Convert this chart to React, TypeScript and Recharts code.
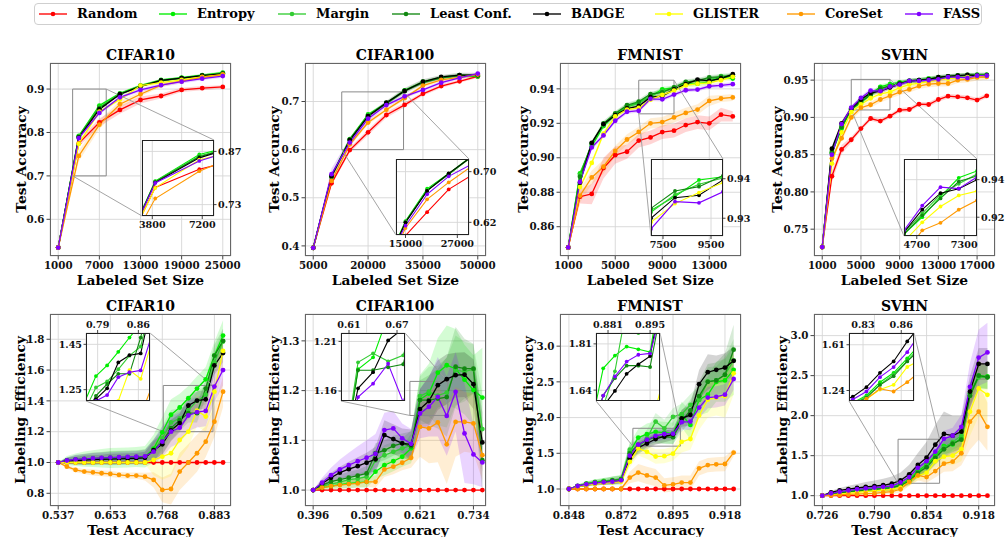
import React from "react";
import { ComposedChart, Line, Area, XAxis, YAxis, CartesianGrid, ReferenceArea, ReferenceLine } from "recharts";

const FONT = "'DejaVu Serif', 'Liberation Serif', 'Noto Serif', serif";

const SERIES = ["Random", "Entropy", "Margin", "Least Conf.", "BADGE", "GLISTER", "CoreSet", "FASS"];
const COLORS = ["#ff0000", "#00ee00", "#33cc33", "#118811", "#000000", "#ffff00", "#ff9900", "#8000ff"];
const LEGEND_X = [39, 159, 278, 392, 533, 655, 787, 905];

// ---------- CIFAR10 : accuracy vs labeled set size ----------
const cifar10Sizes = [1000, 4000, 7000, 10000, 13000, 16000, 19000, 22000, 25000];
const cifar10Acc = [
  [0.535, 0.775, 0.823, 0.852, 0.875, 0.884, 0.898, 0.902, 0.905],
  [0.535, 0.792, 0.862, 0.890, 0.908, 0.921, 0.926, 0.932, 0.938],
  [0.535, 0.791, 0.858, 0.889, 0.907, 0.920, 0.925, 0.931, 0.936],
  [0.535, 0.790, 0.856, 0.888, 0.907, 0.919, 0.925, 0.931, 0.936],
  [0.535, 0.788, 0.853, 0.888, 0.906, 0.920, 0.925, 0.931, 0.935],
  [0.535, 0.774, 0.848, 0.876, 0.908, 0.915, 0.921, 0.928, 0.933],
  [0.535, 0.746, 0.818, 0.865, 0.888, 0.909, 0.918, 0.927, 0.933],
  [0.535, 0.787, 0.845, 0.881, 0.898, 0.909, 0.917, 0.924, 0.930],
];
const cifar10AccStd = [
  [0, 0.008, 0.009, 0.009, 0.008, 0.006, 0.005, 0.005, 0.004],
  0.003, 0.003, 0.003, 0.002, 0.004,
  [0, 0.012, 0.01, 0.008, 0.005, 0.004, 0.003, 0.003, 0.003],
  0.004,
];
const cifar10SizeTicks = [1000, 7000, 13000, 19000, 25000];
const cifar10AccTicks = [0.6, 0.7, 0.8, 0.9];
const cifar10InsetXTicks = [3800, 7200];
const cifar10InsetYTicks = [0.73, 0.87];

// ---------- CIFAR100 ----------
const cifar100Sizes = [5000, 10000, 15000, 20000, 25000, 30000, 35000, 40000, 45000, 50000];
const cifar100Acc = [
  [0.396, 0.530, 0.599, 0.636, 0.672, 0.693, 0.716, 0.732, 0.742, 0.752],
  [0.396, 0.546, 0.622, 0.673, 0.697, 0.723, 0.741, 0.750, 0.754, 0.752],
  [0.396, 0.544, 0.621, 0.671, 0.696, 0.722, 0.740, 0.750, 0.755, 0.753],
  [0.396, 0.543, 0.620, 0.670, 0.696, 0.722, 0.739, 0.749, 0.754, 0.754],
  [0.396, 0.545, 0.620, 0.6696, 0.6974, 0.722, 0.741, 0.751, 0.755, 0.755],
  null,
  [0.396, 0.535, 0.611, 0.6563, 0.683, 0.707, 0.733, 0.745, 0.750, 0.756],
  [0.396, 0.549, 0.6147, 0.6643, 0.6926, 0.7107, 0.724, 0.739, 0.749, 0.758],
];
const cifar100AccStd = [
  [0, 0.004, 0.005, 0.006, 0.006, 0.005, 0.004, 0.004, 0.003, 0.003],
  0.003, 0.003, 0.003,
  [0, 0.005, 0.005, 0.004, 0.004, 0.006, 0.005, 0.004, 0.005, 0.005],
  null, 0.004,
  [0, 0.012, 0.01, 0.006, 0.004, 0.004, 0.003, 0.003, 0.003, 0.003],
];
const cifar100SizeTicks = [5000, 20000, 35000, 50000];
const cifar100AccTicks = [0.4, 0.5, 0.6, 0.7];
const cifar100InsetXTicks = [15000, 27000];
const cifar100InsetYTicks = [0.62, 0.70];

// ---------- FMNIST ----------
const fmnistSizes = [1000, 2000, 3000, 4000, 5000, 6000, 7000, 8000, 9000, 10000, 11000, 12000, 13000, 14000, 15000];
const fmnistAcc = [
  [0.848, 0.8774, 0.879, 0.894, 0.9015, 0.9035, 0.910, 0.9118, 0.9149, 0.9157, 0.919, 0.9207, 0.920, 0.925, 0.924],
  [0.848, 0.891, 0.9067, 0.9184, 0.925, 0.9296, 0.9320, 0.9355, 0.9397, 0.9405, 0.9427, 0.943, 0.944, 0.947, 0.946],
  [0.848, 0.890, 0.908, 0.919, 0.9253, 0.930, 0.9315, 0.9360, 0.9386, 0.9402, 0.9435, 0.9446, 0.9454, 0.9473, 0.948],
  [0.848, 0.889, 0.9083, 0.920, 0.9257, 0.9305, 0.9325, 0.9369, 0.9380, 0.9408, 0.944, 0.9446, 0.9466, 0.947, 0.9473],
  [0.848, 0.8855, 0.9087, 0.9195, 0.9247, 0.9286, 0.9300, 0.9352, 0.9358, 0.9397, 0.9427, 0.9454, 0.9446, 0.946, 0.9485],
  [0.848, 0.883, 0.897, 0.914, 0.924, 0.928, 0.9290, 0.9337, 0.9365, 0.9390, 0.942, 0.943, 0.9435, 0.945, 0.947],
  [0.848, 0.878, 0.8886, 0.8948, 0.904, 0.9106, 0.915, 0.920, 0.9207, 0.9234, 0.926, 0.928, 0.933, 0.9344, 0.935],
  [0.848, 0.886, 0.906, 0.913, 0.9215, 0.9267, 0.9273, 0.9342, 0.9339, 0.9367, 0.9392, 0.9396, 0.9415, 0.942, 0.9427],
];
const fmnistAccStd = [
  [0, 0.004, 0.006, 0.006, 0.005, 0.004, 0.004, 0.004, 0.004, 0.004, 0.004, 0.004, 0.004, 0.004, 0.003],
  0.0015, 0.0015, 0.0015, 0.001, 0.0015,
  [0, 0.004, 0.004, 0.004, 0.003, 0.003, 0.003, 0.003, 0.003, 0.003, 0.003, 0.003, 0.003, 0.002, 0.002],
  0.0012,
];
const fmnistSizeTicks = [1000, 5000, 9000, 13000];
const fmnistAccTicks = [0.86, 0.88, 0.90, 0.92, 0.94];
const fmnistInsetXTicks = [7500, 9500];
const fmnistInsetYTicks = [0.93, 0.94];

// ---------- SVHN ----------
const svhnSizes = [1000, 2000, 3000, 4000, 5000, 6000, 7000, 8000, 9000, 10000, 11000, 12000, 13000, 14000, 15000, 16000, 17000, 18000];
const svhnAcc = [
  [0.726, 0.821, 0.857, 0.870, 0.885, 0.8985, 0.895, 0.9017, 0.9097, 0.9106, 0.9178, 0.9173, 0.924, 0.9285, 0.9276, 0.9263, 0.9232, 0.929],
  [0.726, 0.852, 0.885, 0.911, 0.920, 0.931, 0.941, 0.9446, 0.947, 0.949, 0.950, 0.952, 0.953, 0.954, 0.956, 0.956, 0.957, 0.957],
  [0.726, 0.855, 0.889, 0.912, 0.922, 0.932, 0.9378, 0.943, 0.946, 0.949, 0.950, 0.952, 0.954, 0.955, 0.955, 0.957, 0.957, 0.957],
  [0.726, 0.853, 0.887, 0.911, 0.921, 0.930, 0.939, 0.942, 0.946, 0.948, 0.950, 0.951, 0.953, 0.955, 0.956, 0.956, 0.957, 0.957],
  [0.726, 0.858, 0.892, 0.912, 0.924, 0.9328, 0.9352, 0.940, 0.945, 0.949, 0.950, 0.951, 0.954, 0.955, 0.956, 0.957, 0.956, 0.956],
  [0.726, 0.838, 0.880, 0.907, 0.9173, 0.9257, 0.9316, 0.9339, 0.940, 0.944, 0.946, 0.948, 0.950, 0.952, 0.953, 0.954, 0.955, 0.955],
  [0.726, 0.845, 0.872, 0.900, 0.913, 0.917, 0.924, 0.929, 0.934, 0.9375, 0.942, 0.9446, 0.9455, 0.9455, 0.950, 0.951, 0.9536, 0.9545],
  [0.726, 0.850, 0.891, 0.913, 0.9262, 0.936, 0.9352, 0.9414, 0.944, 0.949, 0.949, 0.950, 0.951, 0.954, 0.954, 0.953, 0.956, 0.956],
];
const svhnAccStd = [
  [0, 0.008, 0.006, 0.004, 0.003, 0.003, 0.003, 0.003, 0.003, 0.003, 0.003, 0.003, 0.003, 0.003, 0.003, 0.003, 0.003, 0.003],
  0.003, 0.003, 0.003, 0.003, 0.003, 0.004, 0.003,
];
const svhnSizeTicks = [1000, 5000, 9000, 13000, 17000];
const svhnAccTicks = [0.75, 0.80, 0.85, 0.90, 0.95];
const svhnInsetXTicks = [4700, 7300];
const svhnInsetYTicks = [0.92, 0.94];

// ---------- CIFAR10 : labeling efficiency ----------
const cifar10EffX = [0.5372, 0.5564, 0.5756, 0.5949, 0.6141, 0.6333, 0.6526, 0.6718, 0.6910, 0.7102, 0.7294, 0.7486, 0.7678, 0.7871, 0.8063, 0.8255, 0.8447, 0.8640, 0.8832, 0.9024];
const cifar10Eff = [
  [1, 1, 1, 1, 1, 1, 1, 1, 1, 1, 1, 1, 1, 1, 1, 1, 1, 1, 1, 1],
  [1.0, 1.012, 1.018, 1.022, 1.025, 1.027, 1.029, 1.031, 1.033, 1.035, 1.037, 1.09, 1.196, 1.31, 1.357, 1.417, 1.48, 1.54, 1.694, 1.824],
  [1.0, 1.01, 1.015, 1.02, 1.022, 1.025, 1.027, 1.029, 1.03, 1.032, 1.034, 1.077, 1.157, 1.26, 1.286, 1.34, 1.40, 1.44, 1.65, 1.785],
  [1.0, 1.012, 1.018, 1.022, 1.025, 1.028, 1.03, 1.032, 1.033, 1.035, 1.036, 1.08, 1.135, 1.223, 1.275, 1.32, 1.32, 1.48, 1.694, 1.79],
  [1.0, 1.01, 1.013, 1.016, 1.018, 1.02, 1.022, 1.024, 1.025, 1.027, 1.03, 1.08, 1.118, 1.208, 1.256, 1.37, 1.402, 1.41, 1.63, 1.71],
  [1.0, 1.0, 1.0, 1.0, 1.0, 1.0, 1.0, 1.0, 1.0, 1.0, 1.0, 1.016, 1.038, 1.06, 1.146, 1.20, 1.336, 1.298, 1.46, 1.724],
  [1.0, 0.973, 0.952, 0.941, 0.936, 0.930, 0.926, 0.919, 0.915, 0.915, 0.908, 0.887, 0.822, 0.828, 0.941, 1.0, 1.06, 1.135, 1.265, 1.46],
  [1.0, 1.013, 1.02, 1.024, 1.027, 1.03, 1.032, 1.034, 1.036, 1.038, 1.04, 1.07, 1.135, 1.20, 1.226, 1.305, 1.327, 1.335, 1.493, 1.60],
];
const cifar10EffStd = [
  0,
  [0, 0.03, 0.04, 0.05, 0.055, 0.06, 0.065, 0.065, 0.065, 0.065, 0.07, 0.09, 0.1, 0.1, 0.09, 0.08, 0.08, 0.08, 0.09, 0.1],
  [0, 0.02, 0.03, 0.035, 0.04, 0.04, 0.045, 0.045, 0.045, 0.045, 0.05, 0.07, 0.08, 0.08, 0.07, 0.06, 0.06, 0.06, 0.07, 0.08],
  [0, 0.02, 0.03, 0.035, 0.04, 0.04, 0.045, 0.045, 0.045, 0.045, 0.05, 0.07, 0.08, 0.08, 0.07, 0.06, 0.06, 0.06, 0.07, 0.08],
  [0, 0.02, 0.025, 0.03, 0.03, 0.03, 0.035, 0.035, 0.035, 0.035, 0.04, 0.06, 0.07, 0.07, 0.06, 0.06, 0.06, 0.06, 0.06, 0.06],
  [0, 0.005, 0.005, 0.005, 0.005, 0.005, 0.005, 0.005, 0.005, 0.005, 0.01, 0.1, 0.15, 0.15, 0.12, 0.1, 0.1, 0.1, 0.1, 0.1],
  [0, 0.01, 0.015, 0.015, 0.02, 0.02, 0.02, 0.02, 0.02, 0.02, 0.025, 0.05, 0.08, 0.1, 0.12, 0.12, 0.12, 0.1, 0.1, 0.1],
  [0, 0.02, 0.03, 0.03, 0.035, 0.035, 0.035, 0.035, 0.035, 0.035, 0.04, 0.08, 0.1, 0.1, 0.1, 0.1, 0.1, 0.1, 0.1, 0.1],
];
const cifar10EffXTicks = [0.5372, 0.6526, 0.7678, 0.8832];
const cifar10EffYTicks = [0.8, 1.0, 1.2, 1.4, 1.6, 1.8];
const cifar10EffInsetXTicks = [0.79, 0.86];
const cifar10EffInsetYTicks = [1.25, 1.45];

// ---------- CIFAR100 : labeling efficiency ----------
const cifar100EffX = [0.3960, 0.4148, 0.4336, 0.4523, 0.4711, 0.4899, 0.5087, 0.5274, 0.5462, 0.5650, 0.5838, 0.6026, 0.6213, 0.6401, 0.6589, 0.6777, 0.6964, 0.7152, 0.7340, 0.7528];
const cifar100Eff = [
  [1, 1, 1, 1, 1, 1, 1, 1, 1, 1, 1, 1, 1, 1, 1, 1, 1, 1, 1, 1],
  [1.0, 1.005, 1.008, 1.011, 1.0134, 1.015, 1.0167, 1.037, 1.05, 1.058, 1.067, 1.084, 1.182, 1.194, 1.236, 1.251, 1.244, 1.222, 1.201, 1.186],
  [1.0, 1.008, 1.012, 1.016, 1.021, 1.023, 1.027, 1.06, 1.07, 1.077, 1.084, 1.09, 1.189, 1.198, 1.19, 1.196, 1.241, 1.238, 1.243, 1.1226],
  [1.0, 1.01, 1.017, 1.021, 1.025, 1.029, 1.0335, 1.074, 1.08, 1.089, 1.094, 1.088, 1.181, 1.181, 1.184, 1.187, 1.248, 1.244, 1.244, 1.06],
  [1.0, 1.0134, 1.0248, 1.035, 1.042, 1.048, 1.055, 1.062, 1.1105, 1.1025, 1.094, 1.092, 1.1628, 1.179, 1.211, 1.223, 1.231, 1.232, 1.213, 1.0958],
  null,
  [1.0, 1.005, 1.008, 1.01, 1.012, 1.0134, 1.0167, 1.0167, 1.0415, 1.047, 1.055, 1.065, 1.127, 1.124, 1.136, 1.092, 1.137, 1.137, 1.134, 1.07],
  [1.0, 1.0147, 1.030, 1.0415, 1.050, 1.058, 1.065, 1.073, 1.1206, 1.124, 1.104, 1.093, 1.154, 1.1675, 1.1875, 1.149, 1.1976, 1.114, 1.0717, 1.0556],
];
const cifar100EffStd = [
  0,
  [0, 0.005, 0.006, 0.008, 0.01, 0.01, 0.012, 0.015, 0.02, 0.02, 0.02, 0.03, 0.05, 0.06, 0.07, 0.08, 0.08, 0.07, 0.07, 0.1],
  [0, 0.005, 0.006, 0.008, 0.01, 0.01, 0.012, 0.015, 0.02, 0.02, 0.02, 0.03, 0.04, 0.05, 0.06, 0.07, 0.07, 0.06, 0.05, 0.07],
  [0, 0.005, 0.008, 0.01, 0.012, 0.012, 0.015, 0.02, 0.02, 0.02, 0.02, 0.03, 0.04, 0.05, 0.06, 0.08, 0.08, 0.06, 0.05, 0.07],
  [0, 0.008, 0.01, 0.012, 0.015, 0.018, 0.02, 0.025, 0.03, 0.03, 0.03, 0.03, 0.04, 0.05, 0.05, 0.05, 0.045, 0.045, 0.05, 0.06],
  null,
  [0, 0.005, 0.006, 0.007, 0.008, 0.008, 0.01, 0.012, 0.015, 0.015, 0.015, 0.02, 0.06, 0.07, 0.08, 0.08, 0.07, 0.06, 0.06, 0.05],
  [0, 0.01, 0.015, 0.02, 0.025, 0.03, 0.035, 0.04, 0.035, 0.035, 0.03, 0.03, 0.05, 0.06, 0.08, 0.08, 0.08, 0.1, 0.06, 0.05],
];
const cifar100EffXTicks = [0.3960, 0.5087, 0.6213, 0.7340];
const cifar100EffYTicks = [1.0, 1.1, 1.2, 1.3];
const cifar100EffInsetXTicks = [0.61, 0.67];
const cifar100EffInsetYTicks = [1.16, 1.21];

// ---------- FMNIST : labeling efficiency ----------
const fmnistEffX = [0.8483, 0.8522, 0.8561, 0.8600, 0.8639, 0.8678, 0.8717, 0.8756, 0.8794, 0.8833, 0.8872, 0.8911, 0.8950, 0.8989, 0.9028, 0.9067, 0.9106, 0.9144, 0.9183, 0.9222];
const fmnistEff = [
  [1, 1, 1, 1, 1, 1, 1, 1, 1, 1, 1, 1, 1, 1, 1, 1, 1, 1, 1, 1],
  [1.0, 1.04, 1.07, 1.09, 1.105, 1.115, 1.13, 1.52, 1.72, 1.767, 1.80, 1.79, 1.78, 2.04, 1.897, 2.25, 2.32, 2.50, 2.52, 2.668],
  [1.0, 1.045, 1.075, 1.10, 1.115, 1.125, 1.14, 1.55, 1.58, 1.709, 1.944, 1.85, 2.01, 2.047, 2.178, 2.248, 2.505, 2.52, 2.598, 2.80],
  [1.0, 1.04, 1.07, 1.09, 1.10, 1.12, 1.135, 1.50, 1.62, 1.684, 1.73, 1.73, 1.725, 1.95, 2.10, 2.30, 2.50, 2.52, 2.60, 2.95],
  [1.0, 1.035, 1.055, 1.075, 1.09, 1.10, 1.115, 1.43, 1.58, 1.637, 1.70, 1.735, 1.765, 1.99, 2.037, 2.467, 2.635, 2.668, 2.70, 2.794],
  [1.0, 1.03, 1.056, 1.07, 1.084, 1.093, 1.103, 1.38, 1.57, 1.52, 1.455, 1.46, 1.495, 1.66, 1.70, 2.03, 2.25, 2.28, 2.30, 2.62],
  [1.0, 1.0, 1.0, 1.0, 1.0, 1.0, 1.0, 1.16, 1.23, 1.19, 1.16, 1.05, 1.065, 1.09, 1.09, 1.29, 1.335, 1.345, 1.35, 1.51],
  [1.0, 1.042, 1.065, 1.084, 1.093, 1.103, 1.121, 1.467, 1.62, 1.69, 1.745, 1.77, 1.775, 1.935, 1.944, 2.14, 2.28, 2.29, 2.32, 2.54],
];
const fmnistEffStd = [
  0,
  [0, 0.02, 0.03, 0.04, 0.05, 0.06, 0.07, 0.12, 0.12, 0.15, 0.15, 0.15, 0.15, 0.18, 0.2, 0.22, 0.25, 0.28, 0.3, 0.35],
  [0, 0.02, 0.03, 0.035, 0.04, 0.05, 0.05, 0.1, 0.1, 0.12, 0.12, 0.12, 0.12, 0.15, 0.15, 0.2, 0.2, 0.2, 0.25, 0.3],
  [0, 0.02, 0.03, 0.035, 0.04, 0.05, 0.05, 0.1, 0.1, 0.1, 0.1, 0.1, 0.1, 0.15, 0.15, 0.2, 0.25, 0.25, 0.3, 0.35],
  [0, 0.015, 0.02, 0.025, 0.03, 0.035, 0.04, 0.08, 0.08, 0.08, 0.08, 0.08, 0.08, 0.12, 0.15, 0.2, 0.25, 0.2, 0.2, 0.2],
  [0, 0.01, 0.015, 0.02, 0.02, 0.025, 0.03, 0.08, 0.1, 0.1, 0.1, 0.1, 0.1, 0.15, 0.15, 0.2, 0.25, 0.25, 0.3, 0.3],
  [0, 0.005, 0.005, 0.005, 0.005, 0.005, 0.01, 0.08, 0.12, 0.12, 0.12, 0.1, 0.1, 0.1, 0.1, 0.1, 0.1, 0.1, 0.1, 0.05],
  [0, 0.015, 0.02, 0.025, 0.03, 0.035, 0.04, 0.08, 0.08, 0.08, 0.08, 0.08, 0.08, 0.1, 0.12, 0.15, 0.15, 0.15, 0.15, 0.15],
];
const fmnistEffXTicks = [0.8483, 0.8717, 0.8950, 0.9183];
const fmnistEffYTicks = [1.0, 1.5, 2.0, 2.5, 3.0];
const fmnistEffInsetXTicks = [0.881, 0.895];
const fmnistEffInsetYTicks = [1.64, 1.81];

// ---------- SVHN : labeling efficiency ----------
const svhnEffX = [0.7260, 0.7367, 0.7473, 0.7580, 0.7687, 0.7793, 0.7900, 0.8007, 0.8113, 0.8220, 0.8327, 0.8433, 0.8540, 0.8647, 0.8753, 0.8860, 0.8967, 0.9073, 0.9180, 0.9287];
const svhnEff = [
  [1, 1, 1, 1, 1, 1, 1, 1, 1, 1, 1, 1, 1, 1, 1, 1, 1, 1, 1, 1],
  [1.0, 1.02, 1.04, 1.055, 1.065, 1.075, 1.085, 1.095, 1.105, 1.14, 1.20, 1.307, 1.383, 1.50, 1.62, 1.64, 1.72, 2.28, 2.50, 2.49],
  [1.0, 1.02, 1.035, 1.05, 1.06, 1.07, 1.08, 1.09, 1.10, 1.13, 1.19, 1.29, 1.37, 1.48, 1.60, 1.67, 1.75, 2.25, 2.48, 2.48],
  [1.0, 1.02, 1.035, 1.05, 1.06, 1.07, 1.08, 1.09, 1.10, 1.13, 1.18, 1.285, 1.356, 1.475, 1.58, 1.65, 1.70, 2.25, 2.50, 2.48],
  [1.0, 1.042, 1.067, 1.083, 1.096, 1.11, 1.12, 1.13, 1.15, 1.19, 1.267, 1.383, 1.475, 1.637, 1.771, 1.75, 1.80, 2.30, 2.646, 2.646],
  [1.0, 1.01, 1.02, 1.03, 1.04, 1.05, 1.06, 1.07, 1.08, 1.10, 1.17, 1.248, 1.286, 1.43, 1.487, 1.50, 1.58, 2.05, 2.34, 2.26],
  [1.0, 1.005, 1.01, 1.015, 1.02, 1.025, 1.03, 1.04, 1.05, 1.08, 1.173, 1.254, 1.232, 1.307, 1.40, 1.425, 1.53, 1.925, 2.05, 1.86],
  [1.0, 1.03, 1.05, 1.065, 1.08, 1.09, 1.10, 1.11, 1.12, 1.167, 1.232, 1.348, 1.429, 1.55, 1.71, 1.75, 1.86, 2.36, 2.725, 2.79],
];
const svhnEffStd = [
  0,
  [0, 0.01, 0.015, 0.02, 0.02, 0.025, 0.03, 0.03, 0.035, 0.04, 0.05, 0.06, 0.07, 0.08, 0.1, 0.1, 0.12, 0.15, 0.15, 0.15],
  [0, 0.01, 0.015, 0.02, 0.02, 0.025, 0.03, 0.03, 0.035, 0.04, 0.05, 0.06, 0.07, 0.08, 0.1, 0.1, 0.12, 0.15, 0.15, 0.15],
  [0, 0.01, 0.015, 0.02, 0.02, 0.025, 0.03, 0.03, 0.035, 0.04, 0.05, 0.06, 0.07, 0.08, 0.1, 0.1, 0.12, 0.15, 0.15, 0.15],
  [0, 0.02, 0.03, 0.04, 0.05, 0.06, 0.07, 0.08, 0.09, 0.1, 0.12, 0.15, 0.2, 0.25, 0.28, 0.25, 0.2, 0.2, 0.2, 0.2],
  [0, 0.005, 0.01, 0.01, 0.015, 0.02, 0.02, 0.025, 0.03, 0.04, 0.05, 0.06, 0.07, 0.08, 0.1, 0.12, 0.15, 0.3, 0.35, 0.35],
  [0, 0.005, 0.01, 0.01, 0.015, 0.02, 0.02, 0.025, 0.03, 0.04, 0.05, 0.06, 0.07, 0.08, 0.1, 0.12, 0.15, 0.35, 0.35, 0.3],
  [0, 0.01, 0.015, 0.02, 0.02, 0.025, 0.03, 0.03, 0.035, 0.04, 0.05, 0.06, 0.07, 0.08, 0.1, 0.1, 0.15, 0.3, 0.35, 0.37],
];
const svhnEffXTicks = [0.7260, 0.7900, 0.8540, 0.9180];
const svhnEffYTicks = [1.0, 1.5, 2.0, 2.5, 3.0];
const svhnEffInsetXTicks = [0.83, 0.86];
const svhnEffInsetYTicks = [1.24, 1.61];

// ---------- layout ----------
type InsetDef = { xDomain: number[]; yDomain: number[]; xTicks: number[]; yTicks: number[]; xDec: number; yDec: number; box: number[] };
type PanelDef = {
  title: string; xLabel: string; yLabel: string; row: number; left: number; top: number; w: number; h: number; yGap: number;
  x: number[]; ys: (number[] | null)[]; spread: any[]; xDomain: number[]; yDomain: number[]; xTicks: number[]; yTicks: number[];
  xDec: number; yDec: number; inset: InsetDef;
};

const COL_LEFT = [50, 304.5, 559.5, 814];
const PW = 181;

const PANELS: PanelDef[] = [
  { title: "CIFAR10", xLabel: "Labeled Set Size", yLabel: "Test Accuracy", row: 0, left: COL_LEFT[0], top: 63, w: PW, h: 193, yGap: 28.5,
    x: cifar10Sizes, ys: cifar10Acc, spread: cifar10AccStd, xDomain: [-200, 26200], yDomain: [0.5155, 0.96], xTicks: cifar10SizeTicks, yTicks: cifar10AccTicks, xDec: -1, yDec: 1,
    inset: { xDomain: [3100, 8000], yDomain: [0.7, 0.9], xTicks: cifar10InsetXTicks, yTicks: cifar10InsetYTicks, xDec: -1, yDec: 2, box: [92, 77, 72, 76] } },
  { title: "CIFAR100", xLabel: "Labeled Set Size", yLabel: "Test Accuracy", row: 0, left: COL_LEFT[1], top: 63, w: PW, h: 193, yGap: 30.5,
    x: cifar100Sizes, ys: cifar100Acc, spread: cifar100AccStd, xDomain: [2750, 52250], yDomain: [0.379, 0.78], xTicks: cifar100SizeTicks, yTicks: cifar100AccTicks, xDec: -1, yDec: 1,
    inset: { xDomain: [12800, 29700], yDomain: [0.6, 0.72], xTicks: cifar100InsetXTicks, yTicks: cifar100InsetYTicks, xDec: -1, yDec: 2, box: [91, 96, 73, 76] } },
  { title: "FMNIST", xLabel: "Labeled Set Size", yLabel: "Test Accuracy", row: 0, left: COL_LEFT[2], top: 63, w: PW, h: 193, yGap: 36.5,
    x: fmnistSizes, ys: fmnistAcc, spread: fmnistAccStd, xDomain: [300, 15700], yDomain: [0.843, 0.955], xTicks: fmnistSizeTicks, yTicks: fmnistAccTicks, xDec: -1, yDec: 2,
    inset: { xDomain: [7000, 10000], yDomain: [0.9255, 0.945], xTicks: fmnistInsetXTicks, yTicks: fmnistInsetYTicks, xDec: -1, yDec: 2, box: [91, 96, 72, 77] } },
  { title: "SVHN", xLabel: "Labeled Set Size", yLabel: "Test Accuracy", row: 0, left: COL_LEFT[3], top: 63, w: PW, h: 193, yGap: 37,
    x: svhnSizes, ys: svhnAcc, spread: svhnAccStd, xDomain: [150, 18850], yDomain: [0.714, 0.973], xTicks: svhnSizeTicks, yTicks: svhnAccTicks, xDec: -1, yDec: 2,
    inset: { xDomain: [4000, 8000], yDomain: [0.91, 0.951], xTicks: svhnInsetXTicks, yTicks: svhnInsetYTicks, xDec: -1, yDec: 2, box: [90, 96, 73, 77] } },
  { title: "CIFAR10", xLabel: "Test Accuracy", yLabel: "Labeling Efficiency", row: 1, left: COL_LEFT[0], top: 314, w: PW, h: 192, yGap: 30,
    x: cifar10EffX, ys: cifar10Eff, spread: cifar10EffStd, xDomain: [0.519, 0.92], yDomain: [0.7175, 1.964], xTicks: cifar10EffXTicks, yTicks: cifar10EffYTicks, xDec: 3, yDec: 1,
    inset: { xDomain: [0.77, 0.88], yDomain: [1.2, 1.5], xTicks: cifar10EffInsetXTicks, yTicks: cifar10EffInsetYTicks, xDec: 2, yDec: 2, box: [36, 19, 64, 68] } },
  { title: "CIFAR100", xLabel: "Test Accuracy", yLabel: "Labeling Efficiency", row: 1, left: COL_LEFT[1], top: 314, w: PW, h: 192, yGap: 31,
    x: cifar100EffX, ys: cifar100Eff, spread: cifar100EffStd, xDomain: [0.3788, 0.7605], yDomain: [0.968, 1.354], xTicks: cifar100EffXTicks, yTicks: cifar100EffYTicks, xDec: 3, yDec: 1,
    inset: { xDomain: [0.6, 0.68], yDomain: [1.15, 1.2185], xTicks: cifar100EffInsetXTicks, yTicks: cifar100EffInsetYTicks, xDec: 2, yDec: 2, box: [36, 19, 64, 68] } },
  { title: "FMNIST", xLabel: "Test Accuracy", yLabel: "Labeling Efficiency", row: 1, left: COL_LEFT[2], top: 314, w: PW, h: 192, yGap: 31.5,
    x: fmnistEffX, ys: fmnistEff, spread: fmnistEffStd, xDomain: [0.8443, 0.9255], yDomain: [0.762, 3.45], xTicks: fmnistEffXTicks, yTicks: fmnistEffYTicks, xDec: 3, yDec: 1,
    inset: { xDomain: [0.877, 0.8983], yDomain: [1.6, 1.85], xTicks: fmnistEffInsetXTicks, yTicks: fmnistEffInsetYTicks, xDec: 3, yDec: 2, box: [36, 19, 64, 68] } },
  { title: "SVHN", xLabel: "Test Accuracy", yLabel: "Labeling Efficiency", row: 1, left: COL_LEFT[3], top: 314, w: PW, h: 192, yGap: 32,
    x: svhnEffX, ys: svhnEff, spread: svhnEffStd, xDomain: [0.7158, 0.938], yDomain: [0.871, 3.27], xTicks: svhnEffXTicks, yTicks: svhnEffYTicks, xDec: 3, yDec: 1,
    inset: { xDomain: [0.819, 0.87], yDomain: [1.155, 1.705], xTicks: svhnEffInsetXTicks, yTicks: svhnEffInsetYTicks, xDec: 2, yDec: 2, box: [35, 19, 65, 68] } },
];

const fmt = (dec: number) => (v: number) => (dec < 0 ? String(v) : v.toFixed(dec));
const tickStyle = { fontSize: 10.3, fontFamily: FONT, fontWeight: 700, fill: "#111" };
const insetTickStyle = { fontSize: 9.6, fontFamily: FONT, fontWeight: 700, fill: "#111" };
const labelStyle = { fontSize: 13.8, fontFamily: FONT, fontWeight: 700, fill: "#000" };

function buildRows(p: PanelDef) {
  return p.x.map((xv, i) => {
    const r: Record<string, any> = { x: xv };
    p.ys.forEach((arr, k) => {
      if (!arr) return;
      r["s" + k] = arr[i];
      const sp = p.spread[k];
      if (sp === null || sp === undefined) return;
      const s = Array.isArray(sp) ? sp[i] : sp;
      r["b" + k] = [arr[i] - s, arr[i] + s];
    });
    return r;
  });
}

function MainChart({ p, rows }: { p: PanelDef; rows: any[] }) {
  const YW = 50, MT = 10, MR = 22;
  const base = 29;
  const XH = base + 10;
  const W = YW + p.w + MR;
  const H = MT + p.h + XH;
  const ins = p.inset;
  const [bl, bt, bw, bh] = ins.box;
  const fx = (px: number) => p.xDomain[0] + (px / p.w) * (p.xDomain[1] - p.xDomain[0]);
  const fy = (py: number) => p.yDomain[1] - (py / p.h) * (p.yDomain[1] - p.yDomain[0]);
  const segTR = [{ x: ins.xDomain[1], y: ins.yDomain[1] }, { x: fx(bl + bw), y: fy(bt) }];
  const segBL = [{ x: ins.xDomain[0], y: ins.yDomain[0] }, { x: fx(bl), y: fy(bt + bh) }];
  return (
    <div style={{ position: "absolute", left: p.left - YW, top: p.top - MT, width: W, height: H }}>
      <ComposedChart width={W} height={H} data={rows} margin={{ top: MT, right: MR, bottom: 0, left: 0 }}>
        <CartesianGrid stroke="#d6d6d6" strokeWidth={0.9} />
        <XAxis type="number" dataKey="x" domain={p.xDomain} ticks={p.xTicks} interval={0} allowDataOverflow
          tickFormatter={fmt(p.xDec)} height={XH} tickSize={3.5} tickMargin={2} axisLine={false}
          tickLine={{ stroke: "#444" }} tick={tickStyle}
          label={{ value: p.xLabel, position: "insideBottom", offset: XH - base, ...labelStyle }} />
        <YAxis type="number" domain={p.yDomain} ticks={p.yTicks} interval={0} allowDataOverflow
          tickFormatter={fmt(p.yDec)} width={YW} tickSize={3.5} tickMargin={2} axisLine={false}
          tickLine={{ stroke: "#444" }} tick={tickStyle}
          label={{ value: p.yLabel, angle: -90, position: "insideLeft", offset: YW - p.yGap, ...labelStyle, style: { textAnchor: "middle" } }} />
        {p.ys.map((arr, k) => (arr && p.spread[k] !== null && p.spread[k] !== undefined ? (
          <Area key={"b" + k} type="linear" dataKey={"b" + k} stroke="none" fill={COLORS[k]} fillOpacity={0.17}
            isAnimationActive={false} dot={false} activeDot={false} />
        ) : null))}
        {p.ys.map((arr, k) => (arr ? (
          <Line key={"s" + k} type="linear" dataKey={"s" + k} stroke={COLORS[k]} strokeWidth={1.3}
            dot={{ r: 2.4, fill: COLORS[k], stroke: COLORS[k], strokeWidth: 0 }} activeDot={false} isAnimationActive={false} />
        ) : null))}
        <ReferenceArea x1={ins.xDomain[0]} x2={ins.xDomain[1]} y1={ins.yDomain[0]} y2={ins.yDomain[1]}
          fill="none" fillOpacity={0} stroke="#8a8a8a" strokeWidth={1} />
        <ReferenceLine segment={segTR} stroke="#9a9a9a" strokeWidth={0.9} />
        <ReferenceLine segment={segBL} stroke="#9a9a9a" strokeWidth={0.9} />
      </ComposedChart>
    </div>
  );
}

function InsetChart({ p, rows }: { p: PanelDef; rows: any[] }) {
  const ins = p.inset;
  const [bl, bt, bw, bh] = ins.box;
  const ax = p.left + bl, ay = p.top + bt;
  const topRow = p.row === 0;
  const YWi = 30, XHi = 17, PAD = 16;
  const W = bw + YWi + PAD, H = bh + XHi;
  const cl = topRow ? ax - PAD : ax - YWi;
  const ct = topRow ? ay : ay - XHi;
  const margin = topRow ? { top: 0, right: 0, bottom: 0, left: PAD } : { top: 0, right: PAD, bottom: 0, left: 0 };
  return (
    <>
      <div style={{ position: "absolute", left: ax, top: ay, width: bw, height: bh, background: "#fff" }} />
      <div style={{ position: "absolute", left: cl, top: ct, width: W, height: H }}>
        <ComposedChart width={W} height={H} data={rows} margin={margin}>
          <CartesianGrid stroke="#d6d6d6" strokeWidth={0.9} />
          <XAxis type="number" dataKey="x" domain={ins.xDomain} ticks={ins.xTicks} interval={0} allowDataOverflow
            orientation={topRow ? "bottom" : "top"} tickFormatter={fmt(ins.xDec)} height={XHi} tickSize={3} tickMargin={2}
            axisLine={false} tickLine={{ stroke: "#444" }} tick={insetTickStyle} />
          <YAxis type="number" domain={ins.yDomain} ticks={ins.yTicks} interval={0} allowDataOverflow
            orientation={topRow ? "right" : "left"} tickFormatter={fmt(ins.yDec)} width={YWi} tickSize={2.5} tickMargin={1.5}
            axisLine={false} tickLine={{ stroke: "#444" }} tick={insetTickStyle} />
          {p.ys.map((arr, k) => (arr ? (
            <Line key={"i" + k} type="linear" dataKey={"s" + k} stroke={COLORS[k]} strokeWidth={1.1}
              dot={{ r: 1.9, fill: COLORS[k], stroke: COLORS[k], strokeWidth: 0 }} activeDot={false} isAnimationActive={false} />
          ) : null))}
        </ComposedChart>
      </div>
      <div style={{ position: "absolute", left: ax, top: ay, width: bw, height: bh, border: "1px solid #222", boxSizing: "border-box" }} />
    </>
  );
}

function Panel({ p }: { p: PanelDef }) {
  const rows = buildRows(p);
  const titleTop = p.row === 0 ? 46 : 297;
  return (
    <>
      <MainChart p={p} rows={rows} />
      <div style={{ position: "absolute", left: p.left, top: p.top, width: p.w, height: p.h, border: "1px solid #666", boxSizing: "border-box" }} />
      <InsetChart p={p} rows={rows} />
      <div style={{ position: "absolute", left: p.left - 20, width: p.w + 40, top: titleTop, textAlign: "center",
        fontFamily: FONT, fontWeight: 700, fontSize: 14, lineHeight: "18px", color: "#000" }}>{p.title}</div>
    </>
  );
}

function Legend() {
  return (
    <div style={{ position: "absolute", left: 34, top: 3, width: 948, height: 22, border: "1px solid #cfcfcf", borderRadius: 4, boxSizing: "border-box", background: "#fff" }}>
      {SERIES.map((s, k) => (
        <div key={s} style={{ position: "absolute", left: LEGEND_X[k] - 35, top: 0, height: 20, display: "flex", alignItems: "center" }}>
          <svg width={28} height={10}>
            <line x1={0} y1={5} x2={28} y2={5} stroke={COLORS[k]} strokeOpacity={0.75} strokeWidth={1.8} />
            <circle cx={14} cy={5} r={2.3} fill={COLORS[k]} />
          </svg>
          <span style={{ marginLeft: 10, fontFamily: FONT, fontWeight: 700, fontSize: 13, lineHeight: "20px", color: "#000", whiteSpace: "nowrap" }}>{s}</span>
        </div>
      ))}
    </div>
  );
}

export default function App() {
  return (
    <div style={{ position: "absolute", left: 0, top: 0, width: 1005, height: 537, background: "#fff", overflow: "hidden" }}>
      <Legend />
      {PANELS.map((p, i) => <Panel key={i} p={p} />)}
    </div>
  );
}
